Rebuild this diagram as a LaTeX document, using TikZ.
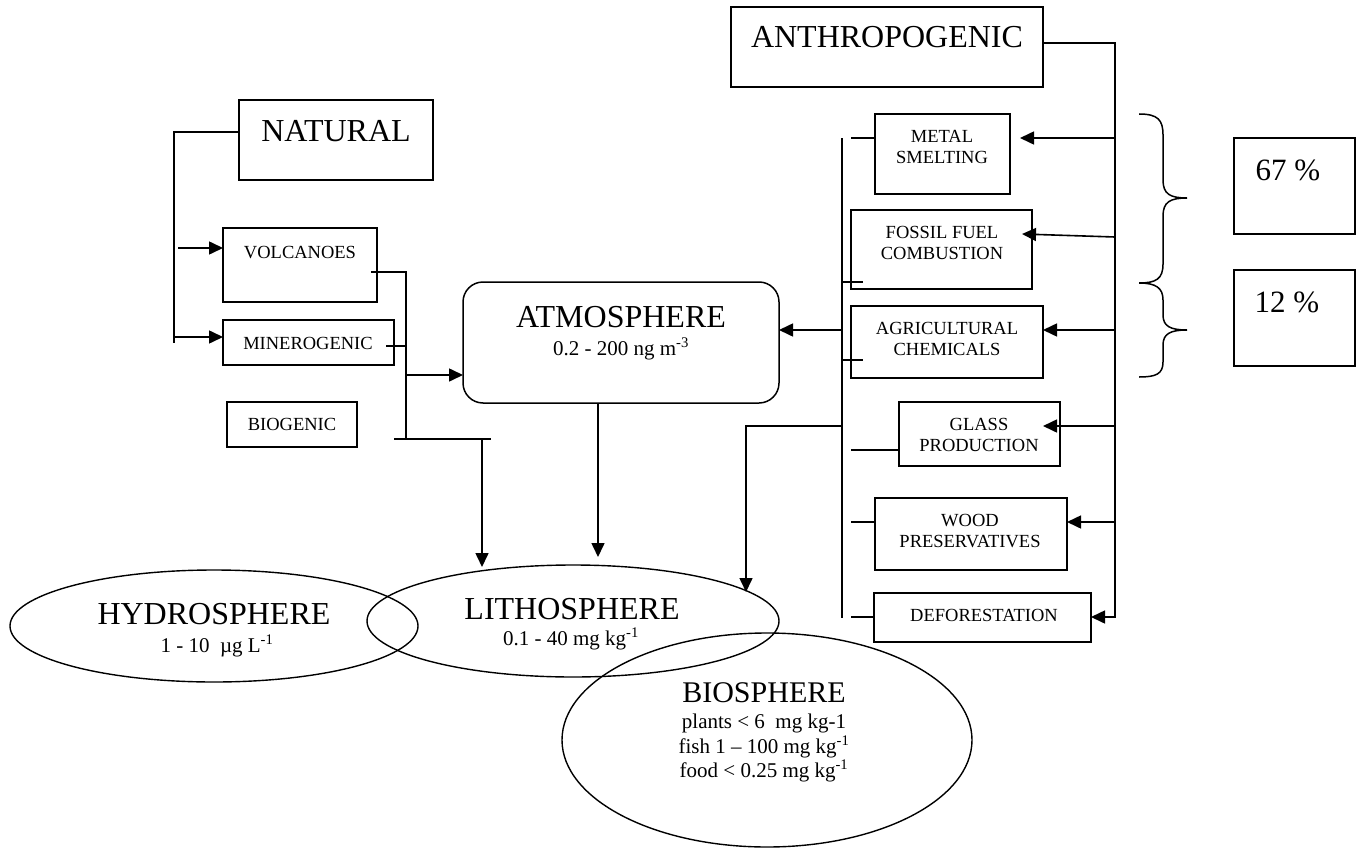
\documentclass[tikz,border=0pt]{standalone}
\usepackage{fontspec}
\setmainfont{Liberation Serif}
\usetikzlibrary{arrows.meta,shapes.geometric}
\begin{document}
\begin{tikzpicture}[x=1pt,y=-1pt,
  every node/.style={inner sep=0pt, outer sep=0pt},
  box/.style={draw, line width=1.5pt, rectangle},
  conn/.style={line width=1.6pt},
  arr/.style={conn, -{Triangle[length=14pt,width=13pt]}},
  big/.style={font=\fontsize{32}{36}\selectfont, anchor=base},
  small/.style={font=\fontsize{18.5}{21}\selectfont, anchor=base},
  smallml/.style={font=\fontsize{18.5}{21}\selectfont, anchor=north, align=center},
  sub/.style={font=\fontsize{21}{25}\selectfont, anchor=base},
  pct/.style={font=\fontsize{31}{36}\selectfont, anchor=base},
  sph/.style={draw, ellipse, line width=1.4pt},
  brace/.style={line width=1.5pt}]
\useasboundingbox (0,0) rectangle (1367,848);

% ---------- NATURAL side ----------
\node[box, minimum width=194, minimum height=80] (nat) at (336,140) {};
\node[big] at (336,142) {NATURAL};
\node[box, minimum width=154, minimum height=74] (volc) at (300,265) {};
\node[small] at (300,258) {VOLCANOES};
\node[box, minimum width=171, minimum height=45] (miner) at (308.5,342.5) {};
\node[small] at (308,349) {MINEROGENIC};
\node[box, minimum width=130, minimum height=45] (biog) at (292,424.5) {};
\node[small] at (292,430) {BIOGENIC};

% ---------- ATMOSPHERE ----------
\node[box, rounded corners=20pt, minimum width=316, minimum height=121] (atm) at (621,342.5) {};
\node[big] at (621,327) {ATMOSPHERE};
\node[sub] at (621,355) {0.2 - 200 ng m\textsuperscript{-3}};

% ---------- ANTHROPOGENIC side ----------
\node[box, minimum width=312, minimum height=80] (anth) at (887,47) {};
\node[big] at (887,48) {ANTHROPOGENIC};
\node[box, minimum width=135, minimum height=80] (metal) at (942.5,154) {};
\node[smallml] at (942,130) {METAL\\SMELTING};
\node[box, minimum width=181, minimum height=79] (fossil) at (941.5,249.5) {};
\node[smallml] at (942,226) {FOSSIL FUEL\\COMBUSTION};
\node[box, minimum width=192, minimum height=72] (agri) at (947,342) {};
\node[smallml] at (947,322) {AGRICULTURAL\\CHEMICALS};
\node[box, minimum width=161, minimum height=64] (glass) at (979.5,434) {};
\node[smallml] at (979,418) {GLASS\\PRODUCTION};
\node[box, minimum width=192, minimum height=72] (wood) at (971,534) {};
\node[smallml] at (970,514) {WOOD\\PRESERVATIVES};
\node[box, minimum width=217, minimum height=49] (defor) at (982.5,617.5) {};
\node[small] at (984,621) {DEFORESTATION};

% ---------- percentages ----------
\node[box, minimum width=121, minimum height=96] (p67) at (1294.5,186) {};
\node[pct] at (1288,180) {67 \%};
\node[box, minimum width=121, minimum height=96] (p12) at (1294.5,318) {};
\node[pct] at (1287,312) {12 \%};

% ---------- spheres ----------
\node[sph, minimum width=408, minimum height=112] (hyd) at (214,626) {};
\node[big] at (214,624) {HYDROSPHERE};
\node[sub] at (217,652) {1 - 10 \ µg L\textsuperscript{-1}};
\node[sph, minimum width=412, minimum height=112] (lith) at (573,621) {};
\node[big] at (572,619) {LITHOSPHERE};
\node[sub] at (571,645) {0.1 - 40 mg kg\textsuperscript{-1}};
\node[sph, minimum width=410, minimum height=214] (bios) at (767,740) {};
\node[font=\fontsize{30}{34}\selectfont, anchor=base] at (764,702) {BIOSPHERE};
\node[sub] at (764,728) {plants < 6 \ mg kg-1};
\node[sub] at (764,753) {fish 1 – 100 mg kg\textsuperscript{-1}};
\node[sub] at (764,777) {food < 0.25 mg kg\textsuperscript{-1}};

% ---------- connectors: natural ----------
\coordinate (nTop) at (174,132);
\coordinate (nBot) at (174,343);
\draw[conn] ([yshift=8]nat.west) -- (nTop) -- (nBot);
\draw[arr] (178,248) -- ([yshift=17]volc.west);
\draw[arr] (nTop |- 0,337) -- ([yshift=5.5]miner.west);
\coordinate (vx) at (406,272);
\coordinate (jBot) at (406,439);
\draw[conn] ([xshift=-6,yshift=-7]volc.east) -- (vx) -- (jBot);
\draw[conn] ([xshift=-8,yshift=-3.5]miner.east) -- (406,346);
\draw[arr] (406,375) -- ([yshift=-32.5]atm.west);
\draw[conn] (394,439) -- (491,439);
\coordinate (lithA) at (482,567);
\draw[arr] (482,439) -- (lithA);
\coordinate (lithB) at (598,557);
\draw[arr] ([xshift=-23]atm.south) -- (lithB);

% ---------- connectors: anthropogenic ----------
\coordinate (bTop) at (842,138);
\coordinate (bBot) at (842,618);
\draw[conn] (bTop) -- (bBot);
\draw[conn] (851,138) -- ([yshift=16]metal.west);
\draw[conn] (842,282) -- (863,282);
\draw[conn] (842,360) -- (863,360);
\draw[conn] (851,450) -- ([yshift=-16]glass.west);
\draw[conn] (851,522) -- ([yshift=12]wood.west);
\draw[conn] (851,617) -- ([yshift=0.5]defor.west);
\draw[arr] (842,330) -- ([yshift=12.5]atm.east);
\coordinate (lithC) at (746,592);
\draw[arr] (842,426) -- (746,426) -- (lithC);

\coordinate (rTop) at (1115,43);
\coordinate (rBot) at (1115,618);
\draw[conn] ([yshift=4]anth.east) -- (rTop) -- (rBot);
\draw[arr] (1115,138) -- ([xshift=10,yshift=16]metal.east);
\draw[arr] (1115,237) -- ([xshift=-10,yshift=15.5]fossil.east);
\draw[arr] (1114,330) -- ([yshift=12]agri.east);
\draw[arr] (1114,426) -- ([xshift=-17,yshift=8]glass.east);
\draw[arr] (1114,522) -- ([yshift=12]wood.east);
\draw[arr] (1115,617) -- ([yshift=0.5]defor.east);

% ---------- braces ----------
\draw[brace] (1139,114) .. controls (1158,114) and (1163,120) .. (1163,135)
  -- (1163,180) .. controls (1163,194) and (1170,198) .. (1187,198)
  .. controls (1170,198) and (1163,202) .. (1163,216)
  -- (1163,264) .. controls (1163,279) and (1156,283) .. (1139,283);
\draw[brace] (1139,283) .. controls (1156,283) and (1163,288) .. (1163,300)
  -- (1163,315) .. controls (1163,326) and (1170,330) .. (1187,330)
  .. controls (1170,330) and (1163,334) .. (1163,345)
  -- (1163,362) .. controls (1163,374) and (1156,377) .. (1139,377);
\end{tikzpicture}
\end{document}
